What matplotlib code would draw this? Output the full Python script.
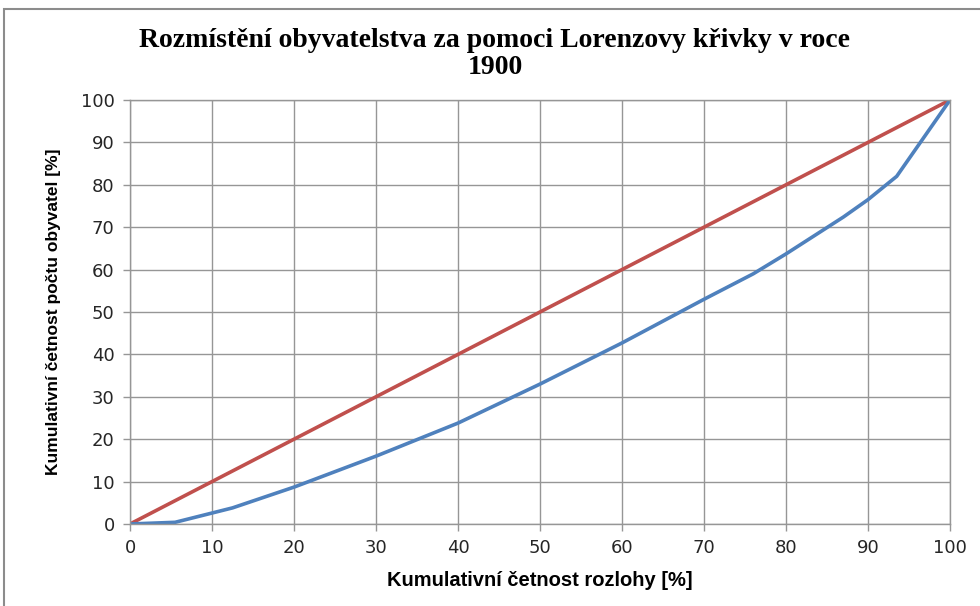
import matplotlib
matplotlib.use("Agg")
from matplotlib import pyplot as plt
from matplotlib.patches import Rectangle

# data
rozloha = [0, 5.5, 12.5, 20, 30, 40, 50, 60, 70, 76, 80, 87, 90, 93.5, 100]
obyvatele = [0, 0.4, 3.8, 8.7, 16, 23.8, 33, 42.7, 53, 59, 63.7, 72.4, 76.5, 82, 100]
rovnost_x = [0, 100]
rovnost_y = [0, 100]
ticks = list(range(0, 101, 10))

sans = ['Liberation Sans', 'DejaVu Sans']

fig = plt.figure(figsize=(9.8, 6.06), dpi=100)
ax = fig.add_axes([130 / 980, 1 - 524 / 606, 820 / 980, 424 / 606])

# chart frame like in Excel
fig.patches.append(Rectangle((4 / 980, -0.1), 1.1, 1 - 9 / 606 + 0.1,
                             transform=fig.transFigure, fill=False,
                             edgecolor='#8c8c8c', linewidth=1.5))

ax.plot(rovnost_x, rovnost_y, color='#C0504D', linewidth=2.6, solid_capstyle='round')
ax.plot(rozloha, obyvatele, color='#4F81BD', linewidth=2.6,
        solid_capstyle='round', solid_joinstyle='round')

ax.set_xlim(0, 100)
ax.set_ylim(0, 100)
ax.set_xticks(ticks)
ax.set_yticks(ticks)
ax.grid(True, color='#969696', linewidth=1)
ax.set_axisbelow(True)
for s in ax.spines.values():
    s.set_color('#969696')
    s.set_linewidth(1)
ax.tick_params(colors='#969696', length=5, width=1, labelcolor='#262626',
               labelsize=13, pad=6)

ax.set_xlabel("Kumulativní četnost rozlohy [%]", family=sans, fontsize=14.5,
              fontweight='bold', labelpad=10)
ax.set_ylabel("Kumulativní četnost počtu obyvatel [%]", family=sans, fontsize=12.5,
              fontweight='bold', labelpad=14)

fig.text(0.505, 0.911, "Rozmístění obyvatelstva za pomoci Lorenzovy křivky v roce\n1900",
         ha='center', va='center', family=['Liberation Serif', 'DejaVu Serif'],
         fontsize=20, fontweight='bold', linespacing=1.15)

fig.savefig("out.png", dpi=100)
